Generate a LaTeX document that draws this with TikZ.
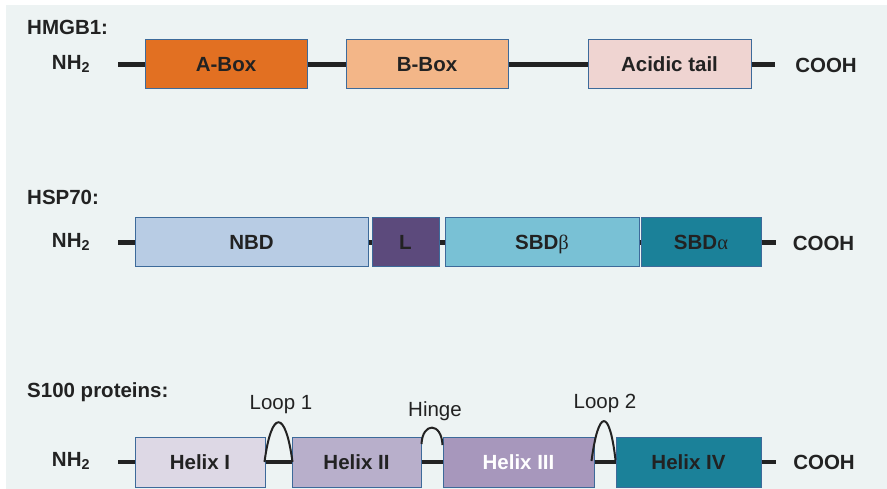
\documentclass[tikz,border=0pt]{standalone}
\usepackage{fontspec}
\setmainfont{Liberation Sans}
\newfontfamily\grkfont{Liberation Serif}
\usetikzlibrary{calc}
\definecolor{bgc}{HTML}{EDF3F3}
\definecolor{txt}{HTML}{222222}
\definecolor{edge}{HTML}{3D6A9A}
\definecolor{cA}{HTML}{E27022}
\definecolor{cB}{HTML}{F3B688}
\definecolor{cAc}{HTML}{EFD4D1}
\definecolor{cNBD}{HTML}{B8CCE4}
\definecolor{cL}{HTML}{5C4A7C}
\definecolor{cSb}{HTML}{79C1D5}
\definecolor{cSa}{HTML}{1B8199}
\definecolor{cH1}{HTML}{DDD8E5}
\definecolor{cH2}{HTML}{B8AFCB}
\definecolor{cH3}{HTML}{A797BC}
\definecolor{cH4}{HTML}{1B8199}
\tikzset{
  every node/.style={text=txt, font=\fontsize{20.5}{24}\selectfont},
  box/.style={draw=edge, line width=1pt, inner sep=0pt, text height=14.7pt, text depth=0pt, font=\fontsize{20.5}{24}\selectfont\bfseries},
  bb/.style={box, minimum height=49pt},
  title/.style={anchor=west, inner sep=0pt, font=\fontsize{20.5}{24}\selectfont\bfseries},
  term/.style={inner sep=0pt, font=\fontsize{20.5}{24}\selectfont\bfseries},
  chain/.style={draw=txt, line width=4.5pt},
  loopline/.style={draw=txt, line width=2pt},
  lbl/.style={inner sep=0pt}
}
\begin{document}
\begin{tikzpicture}[x=1pt,y=-1pt]
\useasboundingbox (0,0) rectangle (887,489);
\fill[bgc] (6,5) rectangle (887,489);

% HMGB1
\node[title] (t1) at (27,27) {HMGB1:};
\node[term] (n1) at (71,64) {NH\textsubscript{2}};
\coordinate (s1) at (118,64.5);
\coordinate (e1) at (775,64.5);
\node[term] (c1) at (826,65) {COOH};
\node[bb, fill=cA, minimum width=162pt] (A) at (226,64.5) {A-Box};
\node[bb, fill=cB, minimum width=162pt] (B) at (427,64.5) {B-Box};
\node[bb, fill=cAc, minimum width=163pt] (Ac) at (669.5,64.5) {Acidic tail};
\draw[chain] (s1) -- (A.west);
\draw[chain] (A.east) -- (B.west);
\draw[chain] (B.east) -- (Ac.west);
\draw[chain] (Ac.east) -- (e1);

% HSP70
\node[title] (t2) at (27,197) {HSP70:};
\node[term] (n2) at (71,242) {NH\textsubscript{2}};
\coordinate (s2) at (118,242.5);
\coordinate (e2) at (776,242.5);
\node[term] (c2) at (823.5,243) {COOH};
\node[bb, fill=cNBD, minimum width=233pt] (NBD) at (251.5,242.5) {NBD};
\node[bb, fill=cL, minimum width=67pt] (L) at (405.5,242.5) {L};
\node[bb, fill=cSb, minimum width=194pt] (Sb) at (542,242.5) {SBD{\grkfont\mdseries β}};
\node[bb, fill=cSa, minimum width=120pt] (Sa) at (701,242.5) {SBD{\grkfont\mdseries α}};
\draw[chain] (s2) -- (NBD.west);
\draw[chain] (NBD.east) -- (L.west);
\draw[chain] (L.east) -- (Sb.west);
\draw[chain] (Sb.east) -- (Sa.west);
\draw[chain] (Sa.east) -- (e2);

% S100
\node[title] (t3) at (27,392) {S100 proteins:};
\node[term] (n3) at (71,461) {NH\textsubscript{2}};
\coordinate (s3) at (118,462);
\coordinate (e3) at (776,462);
\node[term] (c3) at (824,462) {COOH};
\node[box, fill=cH1, minimum width=130pt, minimum height=50pt] (H1) at (200,462) {Helix I};
\node[box, fill=cH2, minimum width=129pt, minimum height=50pt] (H2) at (356.5,462) {Helix II};
\node[box, fill=cH3, minimum width=151pt, minimum height=50pt, text=white] (H3) at (518.5,462) {Helix III};
\node[box, fill=cH4, minimum width=145pt, minimum height=50pt] (H4) at (688.5,462) {Helix IV};
\draw[chain] (s3) -- (H1.west);
\draw[chain] (H1.east) -- (H2.west);
\draw[chain] (H2.east) -- (H3.west);
\draw[chain] (H3.east) -- (H4.west);
\draw[chain] (H4.east) -- (e3);

% loops
\node[lbl] (l1) at (281,405) {Loop 1};
\node[lbl] (hg) at (435,411) {Hinge};
\node[lbl] (l2) at (605,403) {Loop 2};
\draw[loopline] ($(H1.east)+(-1,0)$) .. controls ($(H1.east)+(6,-53)$) and ($(H2.west)+(-6,-53)$) .. ($(H2.west)+(1,0)$);
\draw[loopline] ($(H2.east)+(0,-18)$) .. controls ($(H2.east)+(1,-40)$) and ($(H3.west)+(-1,-40)$) .. ($(H3.west)+(0,-17)$);
\draw[loopline] ($(H3.east)+(-3,-1)$) .. controls ($(H3.east)+(4,-54)$) and ($(H4.west)+(-6,-54)$) .. ($(H4.west)+(0,-2)$);
\end{tikzpicture}
\end{document}
